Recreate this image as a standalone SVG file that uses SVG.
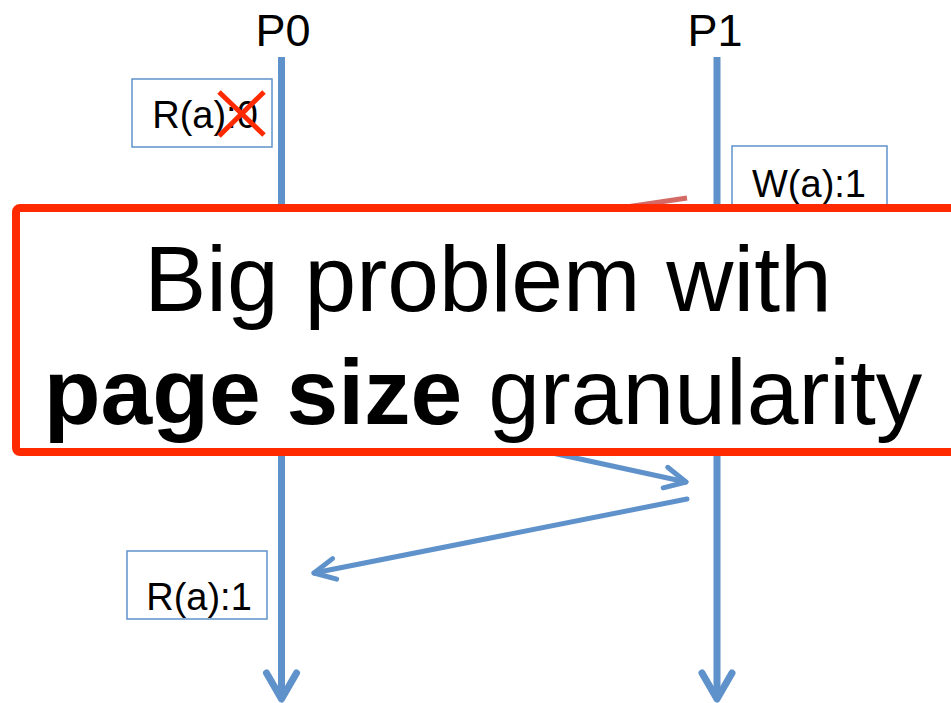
<svg xmlns="http://www.w3.org/2000/svg" width="951" height="703" viewBox="0 0 951 703">
<style>
text{font-family:"Liberation Sans",Arial,sans-serif;fill:#000}
.lbl{font-size:45px;text-anchor:middle}
.val{font-size:38px;text-anchor:middle}
.box{fill:#fff;stroke:#5F92CA;stroke-width:1.5}
.life{stroke:#5F92CA;stroke-width:7;fill:none}
.msg{stroke:#5F92CA;stroke-width:5;fill:none;stroke-linecap:round}
.big{font-size:93px;text-anchor:middle}
</style>
<defs>
<marker id="lifeHead" markerUnits="userSpaceOnUse" markerWidth="40" markerHeight="40" viewBox="-35 -20 40 40" refX="0" refY="0" orient="auto" overflow="visible">
<path d="M-26,-15 L0,0 L-26,15" fill="none" stroke="#5F92CA" stroke-width="7" stroke-linecap="round" stroke-linejoin="round"/>
</marker>
<marker id="msgHead" markerUnits="userSpaceOnUse" markerWidth="30" markerHeight="30" viewBox="-26 -15 30 30" refX="0" refY="0" orient="auto" overflow="visible">
<path d="M-21,-10.5 L0,0 L-21,10.5" fill="none" stroke="#5F92CA" stroke-width="5" stroke-linecap="round" stroke-linejoin="round"/>
</marker>
</defs>

<g id="P0">
<text class="lbl" x="283" y="46">P0</text>
<line class="life" x1="281.5" y1="57" x2="281.5" y2="699" marker-end="url(#lifeHead)"/>
</g>
<g id="P1">
<text class="lbl" x="715" y="46">P1</text>
<line class="life" x1="717" y1="57" x2="717" y2="699" marker-end="url(#lifeHead)"/>
</g>

<g id="connectors">
<line x1="290" y1="257" x2="687" y2="198" stroke="#D46A65" stroke-width="5"/>
<line class="msg" x1="290" y1="396" x2="686" y2="482" marker-end="url(#msgHead)"/>
<line class="msg" x1="687" y1="499" x2="314" y2="573" marker-end="url(#msgHead)"/>
</g>

<g id="Ra0">
<rect class="box" x="132" y="79" width="140" height="68"/>
<text class="val" x="205" y="128">R(a):0</text>
<path d="M219,136 L264,92 M219,92 L264,135" stroke="#FF2A00" stroke-width="5" fill="none"/>
</g>

<g id="Wa1">
<rect class="box" x="732" y="146" width="155" height="68"/>
<text class="val" x="809" y="197">W(a):1</text>
</g>

<g id="Ra1">
<rect class="box" x="127" y="551" width="140" height="68"/>
<text class="val" x="199" y="610">R(a):1</text>
</g>

<g id="callout">
<rect x="16" y="208" width="960" height="244" rx="4" fill="#fff" stroke="#FF2A00" stroke-width="8"/>
<text class="big" x="488" y="311">Big problem with</text>
<text class="big" x="483" y="424"><tspan font-weight="bold">page size</tspan> granularity</text>
</g>
</svg>
